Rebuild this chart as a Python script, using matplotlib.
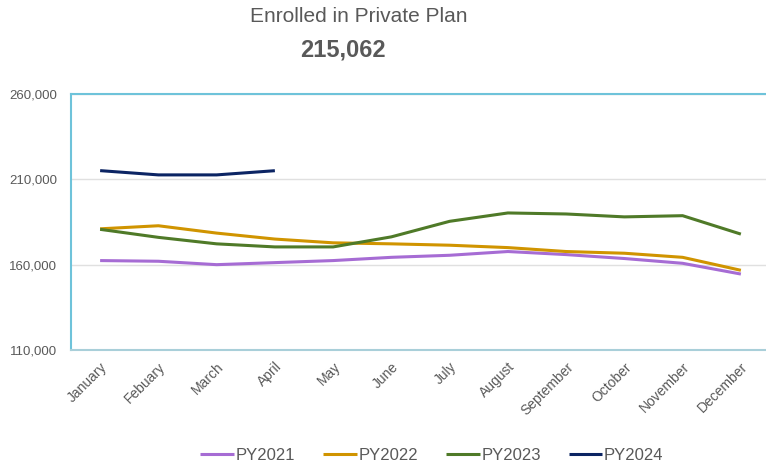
import matplotlib
matplotlib.use("Agg")
import matplotlib.pyplot as plt
from matplotlib.ticker import FuncFormatter

plt.rcParams["font.family"] = ["Liberation Sans", "DejaVu Sans"]

months = ["January", "Febuary", "March", "April", "May", "June", "July",
          "August", "September", "October", "November", "December"]
py2021 = [162400, 162000, 160000, 161200, 162400, 164300, 165500, 167700,
          165900, 163600, 160800, 154500]
py2022 = [181000, 182800, 178500, 175000, 172800, 172200, 171400, 170000,
          167700, 166700, 164300, 156700]
py2023 = [180700, 176000, 172200, 170400, 170400, 176300, 185400, 190300,
          189700, 188000, 188700, 177900]
py2024 = [215100, 212600, 212600, 215062]
yticks = [110000, 160000, 210000, 260000]

series = [("PY2021", py2021, "#A66CD4"),
          ("PY2022", py2022, "#D09400"),
          ("PY2023", py2023, "#4F7A28"),
          ("PY2024", py2024, "#0B2463")]

W, H = 766, 467
fig = plt.figure(figsize=(W / 100, H / 100), dpi=100)
ax = fig.add_axes([71 / W, 1 - 350 / H, (770 - 71) / W, (350 - 94) / H])

for name, vals, col in series:
    ax.plot(range(len(vals)), vals, color=col, linewidth=2.2, label=name,
            solid_capstyle="butt")

ax.set_xlim(-0.5, 11.5)
ax.set_ylim(110000, 260000)
ax.set_yticks(yticks)
ax.yaxis.set_major_formatter(FuncFormatter(lambda v, p: f"{v:,.0f}"))
ax.set_xticks(range(len(months)))
ax.set_xticklabels(months, rotation=45, ha="right", va="top",
                   rotation_mode="anchor", fontsize=10, color="#595959")
ax.tick_params(axis="y", labelsize=9.5, labelcolor="#595959", length=0, pad=10)
ax.tick_params(axis="x", length=0, pad=7)
ax.grid(axis="y", color="#E0E0E0", linewidth=1)
ax.set_axisbelow(True)

ax.spines["left"].set_color("#6EC3DA")
ax.spines["top"].set_color("#6EC3DA")
ax.spines["bottom"].set_color("#A9CFD9")
ax.spines["right"].set_visible(False)
for s in ["left", "top", "bottom"]:
    ax.spines[s].set_linewidth(1.5)

fig.text(359 / W, 1 - 16 / H, "Enrolled in Private Plan", ha="center",
         va="center", fontsize=15, color="#595959")
fig.text(343 / W, 1 - 50 / H, "215,062", ha="center", va="center",
         fontsize=17, fontweight="bold", color="#595959")

fig.legend(loc="center", bbox_to_anchor=(432 / W, 1 - 455 / H), ncol=4,
           frameon=False, fontsize=12, handlelength=2.0, handletextpad=0.1,
           columnspacing=1.7, labelcolor="#595959")

fig.savefig("out.png", dpi=100)
